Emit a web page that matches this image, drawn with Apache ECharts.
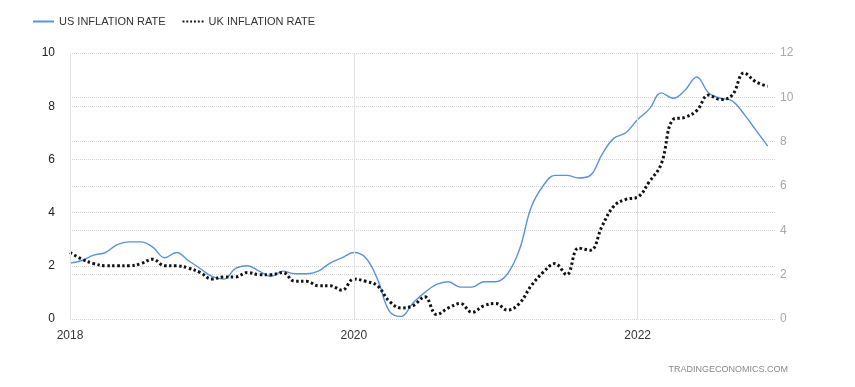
<!DOCTYPE html>
<html>
<head>
<meta charset="utf-8">
<script src="https://cdn.jsdelivr.net/npm/echarts@6/dist/echarts.min.js"></script>
<style>
html,body{margin:0;padding:0;background:#fff;}
#c{width:855px;height:387px;}
</style>
</head>
<body>
<div id="c"></div>
<script>
// Monthly data, Jan 2018 .. Dec 2022
var startYear = 2018;
var usInflation = [
  2.1, 2.2, 2.4, 2.5, 2.8, 2.9, 2.9, 2.7, 2.3, 2.5, 2.2, 1.9,
  1.6, 1.5, 1.9, 2.0, 1.8, 1.6, 1.8, 1.7, 1.7, 1.8, 2.1, 2.3,
  2.5, 2.3, 1.5, 0.3, 0.1, 0.6, 1.0, 1.3, 1.4, 1.2, 1.2, 1.4,
  1.4, 1.7, 2.6, 4.2, 5.0, 5.4, 5.4, 5.3, 5.4, 6.2, 6.8, 7.0,
  7.5, 7.9, 8.5, 8.3, 8.6, 9.1, 8.5, 8.3, 8.2, 7.7, 7.1, 6.5
];
var ukInflation = [
  3.0, 2.7, 2.5, 2.4, 2.4, 2.4, 2.5, 2.7, 2.4, 2.4, 2.3, 2.1,
  1.8, 1.9, 1.9, 2.1, 2.0, 2.0, 2.1, 1.7, 1.7, 1.5, 1.5, 1.3,
  1.8, 1.7, 1.5, 0.8, 0.5, 0.6, 1.0, 0.2, 0.5, 0.7, 0.3, 0.6,
  0.7, 0.4, 0.7, 1.5, 2.1, 2.5, 2.0, 3.2, 3.1, 4.2, 5.1, 5.4,
  5.5, 6.2, 7.0, 9.0, 9.1, 9.4, 10.1, 9.9, 10.1, 11.1, 10.7, 10.5
];
var xTickLabels = ['2018', '2020', '2022'];
var leftTicks = [0, 2, 4, 6, 8, 10];
var rightTicks = [0, 2, 4, 6, 8, 10, 12];

function toPairs(arr) { return arr.map(function (v, i) { return [i, v]; }); }

var chart = echarts.init(document.getElementById('c'));
var font = 'Arial, "Liberation Sans", sans-serif';
chart.setOption({
  animation: false,
  textStyle: { fontFamily: font },
  legend: {
    left: 28, top: 11,
    itemWidth: 21, itemHeight: 10, itemGap: 17,
    textStyle: { fontSize: 11, color: '#333', fontFamily: font },
    data: [
      { name: 'US INFLATION RATE', icon: 'path://M0,0 L21,0 L21,2 L0,2 Z', itemStyle: { color: '#5a93dc' } },
      { name: 'UK INFLATION RATE', icon: 'path://M0,0h2v2h-2z M4,0h2v2h-2z M8,0h2v2h-2z M12,0h2v2h-2z M16,0h2v2h-2z M20,0h2v2h-2z', itemStyle: { color: '#111' } }
    ]
  },
  grid: { left: 70, right: 79, top: 53, bottom: 68 },
  xAxis: {
    type: 'value', min: 0, max: 59.7, interval: 24,
    axisLine: { show: false }, axisTick: { show: false },
    splitLine: { show: false },
    axisLabel: {
      color: '#333', fontSize: 12, margin: 11,
      formatter: function (v) {
        if (v % 24 !== 0) return '';
        return xTickLabels[v / 24] || '';
      }
    }
  },
  yAxis: [
    {
      type: 'value', min: leftTicks[0], max: leftTicks[leftTicks.length - 1], interval: 2,
      position: 'left',
      axisLine: { show: false }, axisTick: { show: false },
      axisLabel: { color: '#222', fontSize: 12, margin: 15 },
      splitLine: { show: true, lineStyle: { color: '#d6d6d6', type: 'dotted', width: 1 } }
    },
    {
      type: 'value', min: rightTicks[0], max: rightTicks[rightTicks.length - 1], interval: 2,
      position: 'right',
      axisLine: { show: false }, axisTick: { show: false },
      axisLabel: { color: '#a8a8a8', fontSize: 12, margin: 4 },
      splitLine: { show: true, lineStyle: { color: '#d6d6d6', type: 'dotted', width: 1 } }
    }
  ],
  series: [
    {
      name: 'US INFLATION RATE', type: 'line', yAxisIndex: 0,
      data: toPairs(usInflation), smooth: 0.4, showSymbol: false, symbol: 'none',
      lineStyle: { color: '#5a93dc', width: 1.4 },
      itemStyle: { color: '#5a93dc' },
      markLine: {
        silent: true, symbol: 'none', label: { show: false },
        lineStyle: { color: '#e2e2e2', type: 'solid', width: 1 },
        data: [{ xAxis: 0 }, { xAxis: 24 }, { xAxis: 48 }]
      }
    },
    {
      name: 'UK INFLATION RATE', type: 'line', yAxisIndex: 1,
      data: toPairs(ukInflation), smooth: 0.4, showSymbol: false, symbol: 'none',
      lineStyle: { color: '#111', width: 3, type: [2.5, 2.5] },
      itemStyle: { color: '#111' }
    }
  ],
  graphic: [
    {
      type: 'text', right: 67, top: 365,
      style: { text: 'TRADINGECONOMICS.COM', fill: '#8a8a8a', fontSize: 9, fontFamily: font }
    }
  ]
});
</script>
</body>
</html>
